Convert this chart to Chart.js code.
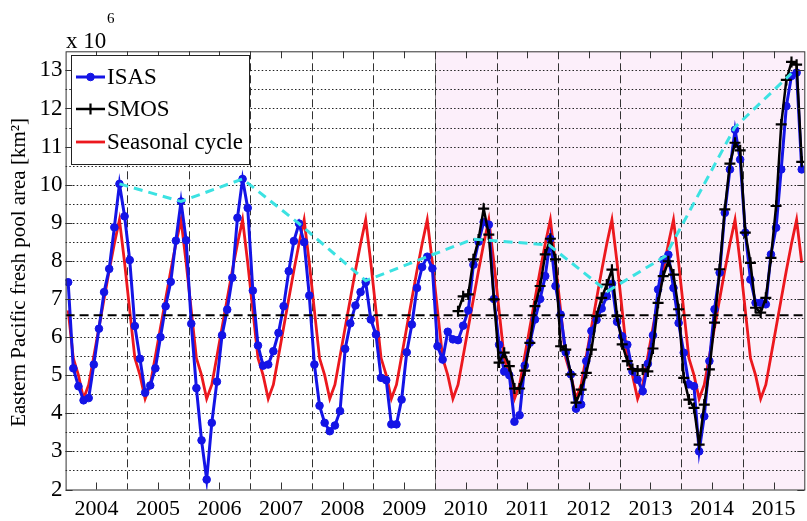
<!DOCTYPE html>
<html>
<head>
<meta charset="utf-8">
<script src="https://cdn.jsdelivr.net/npm/chart.js@4.4.0/dist/chart.umd.min.js"></script>
<style>
  html, body { margin: 0; padding: 0; background: #fff; overflow: hidden; }
  #wrap { position: relative; width: 807px; height: 521px; overflow: hidden; }
  canvas { position: absolute; left: 0; top: 0; }
</style>
</head>
<body>
<div id="wrap"><canvas id="chart" width="812" height="521"></canvas></div>
<script>
const yearLabels = ["2004", "2005", "2006", "2007", "2008", "2009", "2010", "2011", "2012", "2013", "2014", "2015"];
const yTickValues = [2, 3, 4, 5, 6, 7, 8, 9, 10, 11, 12, 13];

// monthly climatology, Jan..Dec
const seasonalCycle = [6.7, 5.45, 5.0, 4.38, 4.75, 5.5, 6.25, 7.0, 7.75, 8.45, 9.08, 7.95];

// ISAS monthly, Jan 2004 .. Dec 2015
const isasArea = [
  7.44, 5.18, 4.71, 4.34, 4.40, 5.28, 6.22, 7.18, 7.79, 8.88, 10.02, 9.17,
  8.02, 6.29, 5.43, 4.54, 4.73, 5.18, 6.00, 6.81, 7.45, 8.53, 9.56, 8.54,
  6.35, 4.66, 3.29, 2.26, 3.75, 4.83, 6.05, 6.72, 7.56, 9.13, 10.15, 9.39,
  7.22, 5.78, 5.25, 5.28, 5.63, 6.11, 6.81, 7.73, 8.52, 8.98, 8.49, 7.09,
  5.28, 4.20, 3.75, 3.53, 3.68, 4.06, 5.69, 6.36, 6.83, 7.18, 7.44, 6.46,
  6.07, 4.93, 4.87, 3.71, 3.71, 4.36, 5.60, 6.33, 7.29, 7.84, 8.11, 7.80,
  5.76, 5.41, 6.14, 5.94, 5.92, 6.30, 6.70, 7.90, 8.50, 9.02, 8.95, 7.00,
  5.80, 5.10, 5.00, 3.78, 3.95, 5.25, 5.85, 6.46, 7.00, 7.60, 8.58, 7.34,
  6.59, 5.60, 5.02, 4.12, 4.23, 5.37, 6.16, 6.45, 6.75, 7.07, 7.40, 6.40,
  6.02, 5.80, 5.10, 4.88, 4.58, 5.30, 6.05, 7.25, 8.03, 8.16, 7.29, 6.37,
  5.59, 4.76, 4.71, 3.00, 3.92, 5.37, 6.73, 7.69, 9.26, 10.40, 11.44, 10.66,
  8.74, 7.51, 6.90, 6.90, 6.86, 8.17, 8.87, 10.40, 12.06, 12.85, 12.94, 10.40
];

// SMOS monthly, May 2010 .. Dec 2015
const smosFirstMonth = 76;
const smosArea = [
  6.68, 7.07, 7.12, 8.04, 8.56, 9.37, 8.69, 6.99,
  5.33, 5.59, 5.24, 4.65, 4.65, 5.12, 5.85, 6.81, 7.34, 8.17, 8.58, 8.04,
  5.76, 5.67, 5.02, 4.28, 4.62, 5.06, 5.67, 6.55, 7.03, 7.38, 7.77, 6.55,
  5.81, 5.37, 5.16, 5.12, 5.15, 5.10, 5.70, 6.90, 7.60, 7.99, 7.64, 6.73,
  4.93, 4.36, 4.14, 3.18, 4.23, 5.15, 6.38, 7.78, 9.35, 10.55, 11.10, 10.90,
  8.74, 7.95, 6.77, 6.64, 7.03, 8.08, 9.44, 11.58, 12.75, 13.22, 13.15, 10.60
];

// yearly maxima joined by the cyan dashed line
const peakTimes = [2004.875, 2005.875, 2006.875, 2007.79, 2008.875, 2009.875, 2010.62, 2011.85, 2012.8, 2013.74, 2014.87, 2015.79];
const peakArea = [10.02, 9.56, 10.15, 8.98, 7.48, 8.11, 8.57, 8.42, 7.2, 8.12, 11.5, 12.92];

const meanArea = 6.57;
const smosStartYear = 2010;

const monthTime = (i) => 2004 + (i + 0.5) / 12;

const isasPoints = isasArea.map((v, i) => ({ x: monthTime(i), y: v }));
const smosPoints = smosArea.map((v, i) => ({ x: monthTime(smosFirstMonth + i), y: v }));
const seasonalPoints = isasArea.map((_, i) => ({ x: monthTime(i), y: seasonalCycle[i % 12] }));
const peakPoints = peakTimes.map((t, i) => ({ x: t, y: peakArea[i] }));
const meanPoints = [{ x: 2004, y: meanArea }, { x: 2016, y: meanArea }];

const serif = "'Liberation Serif', 'Times New Roman', serif";
const blue = "rgb(20,20,230)";
const red = "rgb(236,24,30)";
const cyan = "rgb(60,226,226)";

const frame = {
  id: "frame",
  beforeDraw(chart) {
    const { ctx, width, height } = chart;
    ctx.save();
    ctx.fillStyle = "#fff";
    ctx.fillRect(0, 0, width, height);
    ctx.restore();
  },
  beforeDatasetsDraw(chart) {
    const { ctx, chartArea: a, scales: { x, y } } = chart;
    ctx.save();
    const px = x.getPixelForValue(smosStartYear);
    ctx.fillStyle = "rgb(252,239,250)";
    ctx.fillRect(px, a.top, a.right - px, a.bottom - a.top);

    ctx.strokeStyle = "#222";
    ctx.lineWidth = 1.2;
    ctx.setLineDash([1.5, 2.2]);
    for (let v = 2.5; v < 13.5; v += 0.5) {
      const py = Math.round(y.getPixelForValue(v)) + 0.5;
      ctx.beginPath();
      ctx.moveTo(a.left, py);
      ctx.lineTo(a.right, py);
      ctx.stroke();
    }
    ctx.strokeStyle = "#333";
    ctx.lineWidth = 1;
    ctx.setLineDash([8, 4]);
    yearLabels.slice(1).forEach((l) => {
      const gx = Math.round(x.getPixelForValue(Number(l))) + 0.5;
      ctx.beginPath();
      ctx.moveTo(gx, a.top);
      ctx.lineTo(gx, a.bottom);
      ctx.stroke();
    });
    ctx.setLineDash([]);
    ctx.strokeStyle = "rgba(60,60,60,0.6)";
    ctx.beginPath();
    ctx.moveTo(Math.round(px) + 0.5, a.top);
    ctx.lineTo(Math.round(px) + 0.5, a.bottom);
    ctx.stroke();
    ctx.restore();
  },
  afterDatasetsDraw(chart) {
    const { ctx, chartArea: a, scales: { x, y } } = chart;
    ctx.save();

    // axes box and inward ticks
    ctx.strokeStyle = "#333";
    ctx.lineWidth = 1;
    ctx.strokeRect(a.left + 0.5, a.top + 0.5, a.right - a.left, a.bottom - a.top);
    ctx.beginPath();
    yearLabels.forEach((l) => {
      const tx = Math.round(x.getPixelForValue(Number(l) + 0.5)) + 0.5;
      ctx.moveTo(tx, a.bottom);
      ctx.lineTo(tx, a.bottom - 7);
      ctx.moveTo(tx, a.top);
      ctx.lineTo(tx, a.top + 7);
    });
    yTickValues.forEach((v) => {
      const ty = Math.round(y.getPixelForValue(v)) + 0.5;
      ctx.moveTo(a.left, ty);
      ctx.lineTo(a.left + 7, ty);
      ctx.moveTo(a.right, ty);
      ctx.lineTo(a.right - 7, ty);
    });
    ctx.stroke();

    // legend box
    const lx = 71, ly = 55, lw = 178, lh = 109;
    ctx.fillStyle = "#fff";
    ctx.fillRect(lx, ly, lw, lh);
    ctx.strokeStyle = "#222";
    ctx.strokeRect(lx + 0.5, ly + 0.5, lw, lh);
    const rows = [77, 109, 142];
    chart.data.datasets.filter((d) => d.inLegend).forEach((d, i) => {
      const ry = rows[i];
      ctx.strokeStyle = d.borderColor;
      ctx.lineWidth = d.borderWidth;
      ctx.beginPath();
      ctx.moveTo(lx + 5, ry);
      ctx.lineTo(lx + 34, ry);
      ctx.stroke();
      if (d.pointRadius > 0) {
        ctx.fillStyle = d.backgroundColor;
        ctx.lineWidth = d.pointBorderWidth;
        Chart.helpers.drawPoint(ctx, { pointStyle: d.pointStyle, radius: d.pointRadius, rotation: 0, borderWidth: d.pointBorderWidth }, lx + 19.5, ry);
      }
      ctx.fillStyle = "#000";
      ctx.font = "23px " + serif;
      ctx.textAlign = "left";
      ctx.textBaseline = "middle";
      ctx.fillText(d.label, lx + 36, ry + 1);
    });

    // exponent
    ctx.fillStyle = "#000";
    ctx.textBaseline = "alphabetic";
    ctx.font = "23px " + serif;
    ctx.fillText("x 10", 66, 48);
    ctx.font = "15px " + serif;
    ctx.fillText("6", 107, 23);

    // y title
    ctx.translate(19, (a.top + a.bottom) / 2 + 2);
    ctx.rotate(-Math.PI / 2);
    ctx.textAlign = "center";
    ctx.textBaseline = "middle";
    ctx.font = "21px " + serif;
    ctx.fillText("Eastern Pacific fresh pool area [km\u00b2]", 0, 0);
    ctx.restore();
  }
};

new Chart(document.getElementById("chart"), {
  type: "line",
  data: {
    datasets: [
      { label: "ISAS", inLegend: true, data: isasPoints, borderColor: blue, backgroundColor: blue, borderWidth: 3,
        pointStyle: "circle", pointRadius: 3.8, pointBorderWidth: 1, pointBackgroundColor: blue, pointBorderColor: blue, order: 3 },
      { label: "SMOS", inLegend: true, data: smosPoints, borderColor: "#000", backgroundColor: "#000", borderWidth: 2.5,
        pointStyle: "cross", pointRadius: 5.5, pointBorderWidth: 2.2, pointBorderColor: "#000", order: 2 },
      { label: "Seasonal cycle", inLegend: true, data: seasonalPoints, borderColor: red, backgroundColor: red, borderWidth: 2.8,
        pointRadius: 0, order: 4 },
      { label: "Yearly maximum", data: peakPoints, borderColor: cyan, borderWidth: 3, borderDash: [9, 6], pointRadius: 0, order: 0 },
      { label: "Mean", data: meanPoints, borderColor: "#000", borderWidth: 2, borderDash: [9, 5], pointRadius: 0, order: 1 }
    ]
  },
  options: {
    responsive: false,
    animation: false,
    devicePixelRatio: 1,
    layout: { padding: { top: 51.3, right: 1.6, left: 0, bottom: 0 } },
    plugins: { legend: { display: false }, tooltip: { enabled: false } },
    elements: { line: { tension: 0 } },
    scales: {
      x: {
        type: "linear",
        min: 2004,
        max: 2016,
        afterBuildTicks: (s) => { s.ticks = yearLabels.map((l) => ({ value: Number(l) + 0.5 })); },
        ticks: { callback: (v, i) => yearLabels[i], font: { family: serif, size: 22 }, color: "#000", padding: 7, maxRotation: 0, autoSkip: false },
        grid: { display: false, drawTicks: false },
        border: { display: false },
        afterFit: (s) => { s.height = 31.5; }
      },
      y: {
        min: 2,
        max: 13.5,
        afterBuildTicks: (s) => { s.ticks = yTickValues.map((v) => ({ value: v })); },
        ticks: { font: { family: serif, size: 23 }, color: "#000", padding: 3 },
        grid: { display: false, drawTicks: false },
        border: { display: false },
        afterFit: (s) => { s.width = 65.6; }
      }
    }
  },
  plugins: [frame]
});
</script>
</body>
</html>
